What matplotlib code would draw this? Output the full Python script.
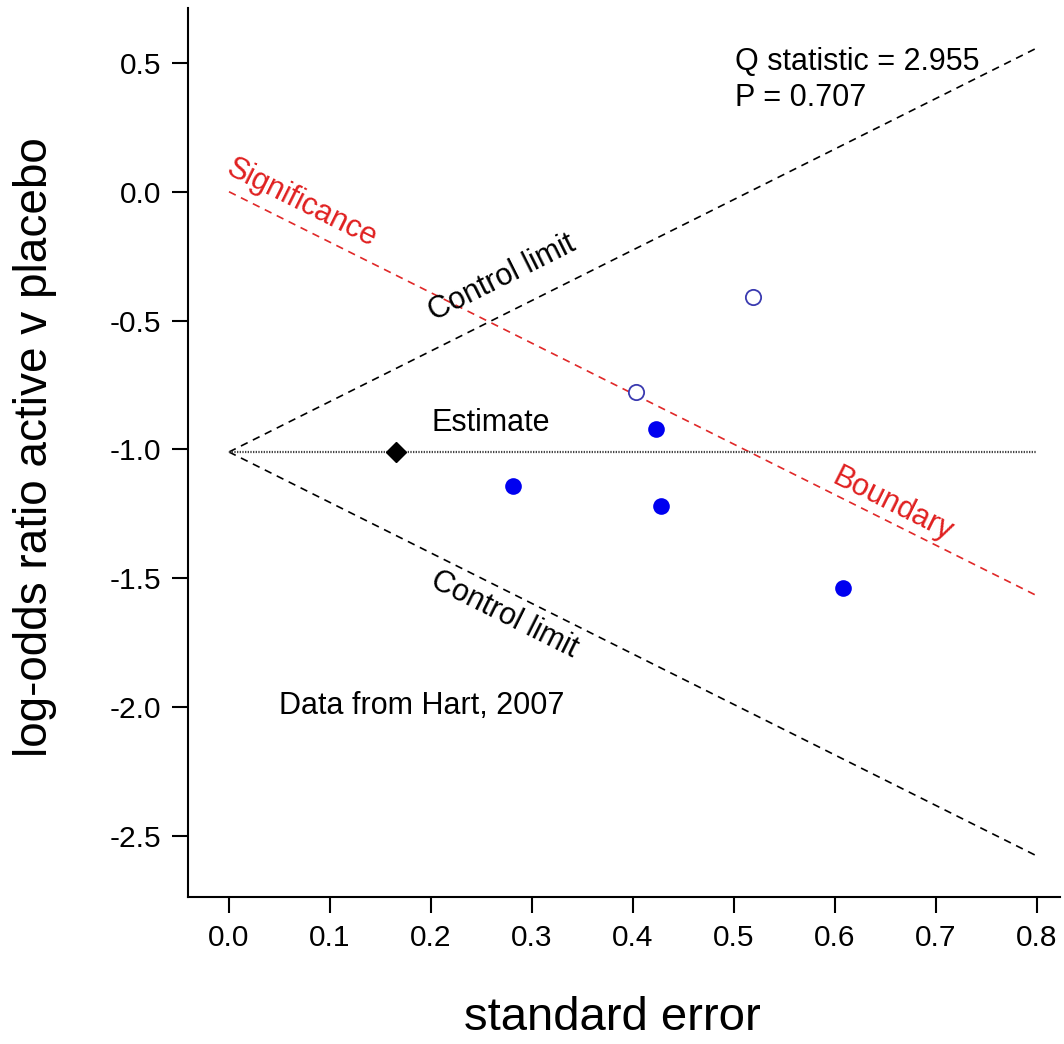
import numpy as np
import matplotlib
matplotlib.use("Agg")
import matplotlib.pyplot as plt

plt.rcParams['font.family'] = ['Liberation Sans', 'DejaVu Sans']

# Data
se_filled = [0.281, 0.423, 0.428, 0.608]
lor_filled = [-1.143, -0.919, -1.221, -1.539]
se_open = [0.403, 0.519]
lor_open = [-0.779, -0.407]
se_pooled = [0.165]
lor_pooled = [-1.01]

estimate = -1.01
z = 1.96
se_range = [0.0, 0.8]
upper_limit = [estimate + z * s for s in se_range]
lower_limit = [estimate - z * s for s in se_range]
boundary = [-z * s for s in se_range]

xticks = [0.0, 0.1, 0.2, 0.3, 0.4, 0.5, 0.6, 0.7, 0.8]
yticks = [0.5, 0.0, -0.5, -1.0, -1.5, -2.0, -2.5]

W, H = 1064, 1044
fig = plt.figure(figsize=(W / 100, H / 100), dpi=100)
ax = fig.add_axes([188 / W, 1 - 897 / H, (1060 - 188) / W, (897 - 8) / H])

ax.set_xlim(-0.0406, 0.8228)
ax.set_ylim(-2.737, 0.713)

for s in ['top', 'right']:
    ax.spines[s].set_visible(False)
for s in ['left', 'bottom']:
    ax.spines[s].set_linewidth(1.5)

ax.set_xticks(xticks)
ax.set_xticklabels([f"{v:.1f}" for v in xticks])
ax.set_yticks(yticks)
ax.set_yticklabels([f"{v:.1f}" for v in yticks])
ax.tick_params(direction='out', length=11.5, width=1.5, labelsize=21.5)
ax.tick_params(axis='x', pad=8)
ax.tick_params(axis='y', pad=8)

dash = (0, (4.5, 3.5))
ax.plot(se_range, upper_limit, color='black', lw=1.2, linestyle=dash)
ax.plot(se_range, lower_limit, color='black', lw=1.2, linestyle=dash)
ax.plot(se_range, boundary, color='#e02828', lw=1.2, linestyle=dash)
ax.plot(se_range, [estimate, estimate], color='#444444', lw=1.6, linestyle=(0, (0.6, 0.6)))

ax.plot(se_filled, lor_filled, 'o', color='#0000f0', markersize=12, markeredgewidth=0)
ax.plot(se_open, lor_open, 'o', markerfacecolor='white', markeredgecolor='#3a3ab0',
        markersize=11, markeredgewidth=1.3)
ax.plot(se_pooled, lor_pooled, 'D', color='black', markersize=10.5)

ang = np.degrees(np.arctan(z))
fs = 22
ax.text(0.501, 0.504, "Q statistic = 2.955", fontsize=fs, ha='left', va='center')
ax.text(0.501, 0.364, "P = 0.707", fontsize=fs, ha='left', va='center')
ax.text(0.0723, -0.043, "Significance", fontsize=fs, color='#e02020', ha='center', va='center',
        rotation=-ang, transform_rotates_text=True, rotation_mode='anchor')
ax.text(0.6574, -1.215, "Boundary", fontsize=fs, color='#e02020', ha='center', va='center',
        rotation=-ang, transform_rotates_text=True, rotation_mode='anchor')
ax.text(0.2703, -0.334, "Control limit", fontsize=fs, ha='center', va='center',
        rotation=ang, transform_rotates_text=True, rotation_mode='anchor')
ax.text(0.2723, -1.642, "Control limit", fontsize=fs, ha='center', va='center',
        rotation=-ang, transform_rotates_text=True, rotation_mode='anchor')
ax.text(0.2594, -0.897, "Estimate", fontsize=fs, ha='center', va='center')
ax.text(0.1911, -1.995, "Data from Hart, 2007", fontsize=fs, ha='center', va='center')

fig.text(35 / W, 1 - 447 / H, "log-odds ratio active v placebo", fontsize=33,
         rotation=90, ha='center', va='center')
fig.text(612 / W, 1 - 1018 / H, "standard error", fontsize=34, ha='center', va='center')

fig.savefig("out.png", dpi=100)
